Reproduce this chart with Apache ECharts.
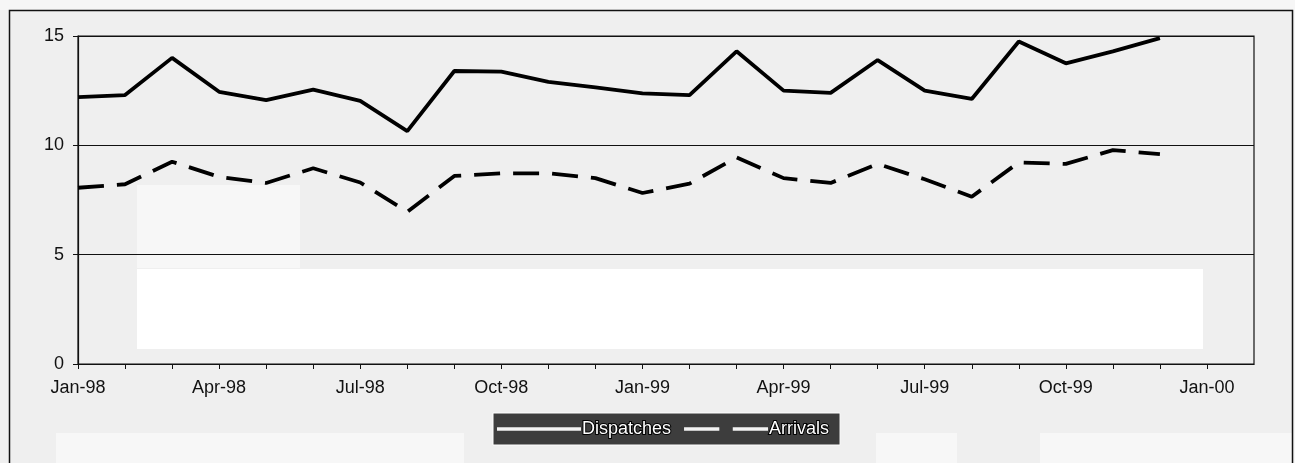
<!DOCTYPE html>
<html>
<head>
<meta charset="utf-8">
<script src="https://cdn.jsdelivr.net/npm/echarts@6/dist/echarts.min.js"></script>
<style>
html,body{margin:0;padding:0;background:#efefef;}
#c{width:1295px;height:463px;}
</style>
</head>
<body>
<div id="c"></div>
<script>
// Months (one point per month, Jan-98 .. Dec-99)
const months = ['Jan-98','Feb-98','Mar-98','Apr-98','May-98','Jun-98','Jul-98','Aug-98','Sep-98','Oct-98','Nov-98','Dec-98',
                'Jan-99','Feb-99','Mar-99','Apr-99','May-99','Jun-99','Jul-99','Aug-99','Sep-99','Oct-99','Nov-99','Dec-99'];
const dispatches = [12.2,12.3,14.0,12.45,12.07,12.55,12.03,10.65,13.4,13.37,12.9,12.65,
                    12.38,12.3,14.3,12.5,12.4,13.9,12.5,12.12,14.75,13.75,14.3,14.9];
const arrivals   = [8.06,8.22,9.25,8.56,8.28,8.95,8.3,6.96,8.6,8.72,8.72,8.5,
                    7.82,8.25,9.45,8.5,8.28,9.15,8.45,7.65,9.22,9.15,9.78,9.6];
// x-axis tick labels, one every 3 months (index 0, 3, ..., 24)
const tickLabels = ['Jan-98','Apr-98','Jul-98','Oct-98','Jan-99','Apr-99','Jul-99','Oct-99','Jan-00'];
const yTicks = [0,5,10,15];

const chart = echarts.init(document.getElementById('c'), null, {renderer:'canvas'});
const font = 'Liberation Sans, Arial, sans-serif';
chart.setOption({
  backgroundColor: '#efefef',
  animation: false,
  graphic: {
    elements: [
      {type:'rect', z:-5, shape:{x:0,y:0,width:1295,height:10}, style:{fill:'#f6f6f6'}},
      {type:'rect', z:-5, shape:{x:1294,y:0,width:10,height:463}, style:{fill:'#f6f6f6'}},
      {type:'rect', z:-5, shape:{x:137,y:185,width:163,height:83}, style:{fill:'#f7f7f7'}},
      {type:'rect', z:-5, shape:{x:137,y:269,width:1066,height:80}, style:{fill:'#ffffff'}},
      {type:'rect', z:-5, shape:{x:56,y:433,width:408,height:40}, style:{fill:'#f7f7f7'}},
      {type:'rect', z:-5, shape:{x:876,y:433,width:81,height:40}, style:{fill:'#f7f7f7'}},
      {type:'rect', z:-5, shape:{x:1040,y:433,width:252,height:40}, style:{fill:'#f7f7f7'}},
      {type:'rect', z:10, shape:{x:9.5,y:10.5,width:1283,height:470}, style:{fill:'none', stroke:'#111', lineWidth:1.5}}
    ]
  },
  grid: {left:78, right:41, top:36, bottom:99, show:true, borderColor:'#111', borderWidth:1.2, backgroundColor:'transparent'},
  legend: {
    left: 493, top: 413,
    padding: [6, 10, 6, 4],
    backgroundColor: '#3d3d3d',
    borderColor: '#ffffff',
    borderWidth: 1,
    itemWidth: 84, itemHeight: 12, itemGap: 12,
    textStyle: {color:'#ffffff', fontFamily: font, fontSize: 18, textBorderColor:'#000', textBorderWidth: 2, padding:[0,0,0,-4]},
    data: [
      {name:'Dispatches', icon:'path://M0,0 L100,0 L100,4 L0,4 Z', itemStyle:{color:'#f2f2f2'}},
      {name:'Arrivals', icon:'path://M0,0 L42,0 L42,4 L0,4 Z M58,0 L100,0 L100,4 L58,4 Z', itemStyle:{color:'#f2f2f2'}}
    ]
  },
  xAxis: {
    type: 'value', min: 0, max: 25, interval: 1,
    axisLine: {show:true, lineStyle:{color:'#111', width:1.2}},
    axisTick: {show:true, length:5, lineStyle:{color:'#111'}},
    splitLine: {show:false},
    axisLabel: {
      margin: 15, color:'#111', fontFamily: font, fontSize: 18,
      showMaxLabel: false,
      formatter: v => (v % 3 === 0 && tickLabels[v/3] !== undefined) ? tickLabels[v/3] : ''
    }
  },
  yAxis: {
    type: 'value', min: 0, max: 15, interval: 5,
    axisLine: {show:true, lineStyle:{color:'#111', width:1.2}},
    axisTick: {show:true, length:5, lineStyle:{color:'#111'}},
    splitLine: {show:true, lineStyle:{color:'#111', width:1.2}},
    axisLabel: {margin: 14, color:'#111', fontFamily: font, fontSize: 18,
      formatter: v => yTicks.includes(v) ? String(v) : ''}
  },
  series: [
    {name:'Dispatches', type:'line', symbol:'none', color:'#000',
     lineStyle:{color:'#000', width:3.8},
     data: months.map((m,i)=>[i, dispatches[i]])},
    {name:'Arrivals', type:'line', symbol:'none', color:'#000',
     lineStyle:{color:'#000', width:3.8, type:[26,13], cap:'butt'},
     data: months.map((m,i)=>[i, arrivals[i]])}
  ]
});
</script>
</body>
</html>
